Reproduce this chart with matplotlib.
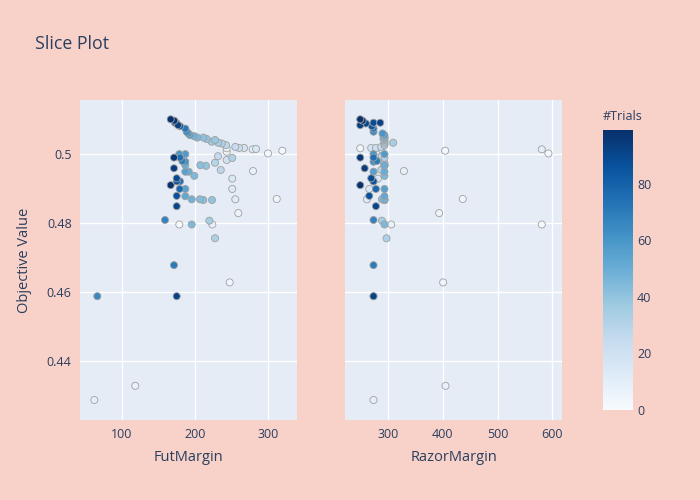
"""Slice plot of objective value against two parameters, coloured by trial number."""

import matplotlib
matplotlib.use("Agg")
import matplotlib.pyplot as plt
from matplotlib.colors import Normalize

# ── trial data ──
trial_number = [
    99, 97, 90, 93, 85, 88, 92, 72, 65, 60, 55, 48, 45, 42, 40, 38, 36, 35, 30, 28,
    25, 22, 18, 5, 10, 15, 2, 3, 4, 60, 58, 96, 75, 70, 62, 25, 32, 20, 30, 50,
    42, 40, 94, 8, 28, 55, 50, 45, 89, 15, 86, 75, 98, 78, 55, 14, 87, 52, 48, 44,
    42, 40, 12, 4, 91, 6, 68, 35, 1, 45, 8, 32, 70, 5, 92, 65, 7, 9,
]
fut_margin = [
    166.7, 171.6, 174.9, 176.7, 179.5, 174.0, 172.6, 186.7, 188.6, 190.8, 193.2, 199.0,
    203.0, 211.4, 216.0, 227.4, 222.9, 231.9, 236.6, 242.5, 255.2, 260.3, 267.1, 243.4,
    279.0, 283.6, 300.0, 319.6, 243.4, 178.5, 186.7, 171.2, 179.5, 182.6, 186.7, 231.5,
    251.0, 243.4, 227.4, 186.7, 207.3, 215.1, 171.2, 279.5, 235.2, 186.7, 191.4, 199.0,
    174.9, 251.0, 174.9, 179.5, 166.7, 179.0, 186.7, 251.0, 174.9, 186.7, 195.5, 206.8,
    211.4, 223.3, 255.2, 311.9, 174.9, 259.3, 158.9, 219.6, 178.5, 195.5, 223.7, 227.4,
    171.2, 247.5, 174.9, 66.2, 118.2, 62.1,
]
razor_margin = [
    248.8, 253.1, 259.2, 248.8, 270.2, 273.1, 285.4, 273.1, 273.1, 289.6, 293.2, 291.4,
    293.2, 293.2, 291.4, 293.2, 293.2, 309.1, 293.2, 293.2, 287.2, 277.5, 268.9, 248.8,
    581.0, 287.2, 593.1, 404.2, 278.2, 273.1, 293.2, 248.8, 273.1, 279.3, 273.1, 288.5,
    293.2, 288.5, 293.2, 293.2, 293.2, 293.2, 256.9, 328.7, 287.2, 273.1, 293.2, 293.2,
    268.9, 281.2, 273.1, 273.1, 248.8, 277.5, 293.2, 265.3, 265.3, 293.2, 293.2, 288.5,
    293.2, 293.2, 261.0, 436.4, 277.5, 393.2, 273.1, 288.5, 581.0, 293.2, 305.5, 296.9,
    273.1, 400.5, 273.1, 273.1, 404.8, 273.1,
]
objective_value = [
    0.5101, 0.5097, 0.5089, 0.5084, 0.5081, 0.5091, 0.5091, 0.5074, 0.5065, 0.5060,
    0.5055, 0.5052, 0.5048, 0.5048, 0.5044, 0.5041, 0.5036, 0.5033, 0.5031, 0.5026,
    0.5021, 0.5018, 0.5018, 0.5017, 0.5014, 0.5015, 0.5002, 0.5010, 0.5007, 0.5000,
    0.5000, 0.4990, 0.4990, 0.4980, 0.4978, 0.4994, 0.4989, 0.4983, 0.4975, 0.4968,
    0.4968, 0.4966, 0.4959, 0.4951, 0.4954, 0.4949, 0.4949, 0.4937, 0.4930, 0.4929,
    0.4921, 0.4921, 0.4910, 0.4899, 0.4899, 0.4899, 0.4879, 0.4878, 0.4869, 0.4869,
    0.4867, 0.4867, 0.4869, 0.4870, 0.4849, 0.4829, 0.4809, 0.4807, 0.4796, 0.4796,
    0.4796, 0.4756, 0.4678, 0.4628, 0.4588, 0.4588, 0.4328, 0.4287,
]

params = ["FutMargin", "RazorMargin"]
x_limits = [(42.5, 339.7), (221.0, 618.0)]
x_ticks = [[100, 200, 300], [300, 400, 500, 600]]
y_ticks = [0.44, 0.46, 0.48, 0.5]
y_tick_labels = ["0.44", "0.46", "0.48", "0.5"]
cbar_ticks = [0, 20, 40, 60, 80]

plt.rcParams["font.family"] = ["Open Sans", "DejaVu Sans"]
TEXT = "#2a3f5f"
PAPER = "#f8d1c8"
PLOT_BG = "#e5ecf6"

figure = plt.figure(figsize=(7, 5), dpi=100, facecolor=PAPER)
axes = [
    figure.add_axes([0.1143, 0.16, 0.31, 0.64]),
    figure.add_axes([0.4929, 0.16, 0.31, 0.64]),
]
norm = Normalize(vmin=0, vmax=99)

# draw later trials on top
order = sorted(range(len(trial_number)), key=lambda i: trial_number[i])
columns = [fut_margin, razor_margin]

for idx, axis in enumerate(axes):
    axis.set_facecolor(PLOT_BG)
    xs = [columns[idx][i] for i in order]
    ys = [objective_value[i] for i in order]
    cs = [trial_number[i] for i in order]
    points = axis.scatter(
        xs, ys, c=cs, cmap="Blues", norm=norm, s=26,
        edgecolors="#a0a0a0", linewidths=0.6, zorder=3,
    )
    axis.set_xlim(*x_limits[idx])
    axis.set_ylim(0.4229, 0.5157)
    axis.set_xticks(x_ticks[idx])
    axis.set_yticks(y_ticks)
    axis.grid(color="white", linewidth=1.0, zorder=0)
    axis.set_axisbelow(True)
    for spine in axis.spines.values():
        spine.set_visible(False)
    axis.tick_params(length=0, labelsize=9, labelcolor=TEXT, pad=6)
    axis.set_xlabel(params[idx], fontsize=10.5, color=TEXT, labelpad=6)
    if idx == 0:
        axis.set_yticklabels(y_tick_labels)
        axis.set_ylabel("Objective Value", fontsize=10.5, color=TEXT, labelpad=11)
    else:
        axis.tick_params(labelleft=False)

# ── colorbar ──
cax = figure.add_axes([0.8614, 0.18, 0.0429, 0.56])
colorbar = figure.colorbar(points, cax=cax, ticks=cbar_ticks)
colorbar.outline.set_visible(False)
cax.tick_params(length=0, labelsize=9, labelcolor=TEXT, pad=3)
figure.text(0.861, 0.755, "#Trials", fontsize=9, color=TEXT, ha="left", va="bottom")

figure.text(0.05, 0.912, "Slice Plot", fontsize=12.75, color=TEXT, ha="left", va="center")

figure.savefig("out.png", dpi=100, facecolor=PAPER)
plt.close(figure)
